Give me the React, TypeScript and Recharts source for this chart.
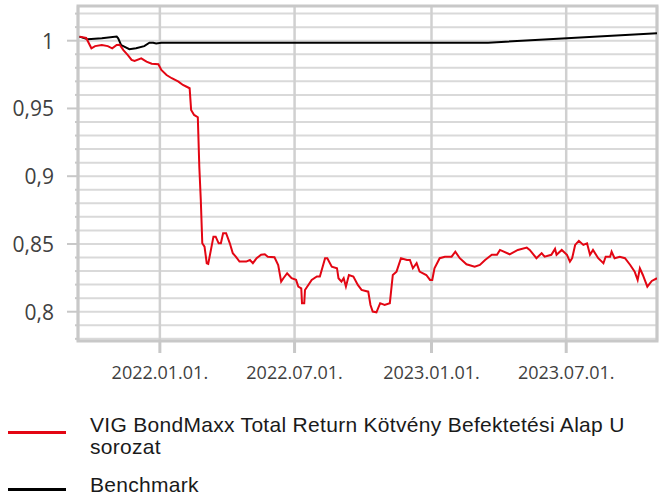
import { LineChart, Line, XAxis, YAxis, CartesianGrid, ReferenceArea } from 'recharts';

const fundName = 'VIG BondMaxx Total Return Kötvény Befektetési Alap U sorozat';
const benchName = 'Benchmark';

const fundDates = [
  '2021-09-15', '2021-09-24', '2021-10-01', '2021-10-06', '2021-10-15', '2021-10-23', '2021-10-29', '2021-11-04',
  '2021-11-08', '2021-11-13', '2021-11-19', '2021-11-24', '2021-11-28', '2021-12-07', '2021-12-14', '2021-12-21',
  '2021-12-30', '2022-01-03', '2022-01-10', '2022-01-17', '2022-01-26', '2022-02-01', '2022-02-06', '2022-02-10',
  '2022-02-12', '2022-02-16', '2022-02-21', '2022-02-23', '2022-02-25', '2022-02-27', '2022-03-02', '2022-03-05',
  '2022-03-07', '2022-03-14', '2022-03-17', '2022-03-21', '2022-03-24', '2022-03-27', '2022-03-31', '2022-04-05',
  '2022-04-09', '2022-04-13', '2022-04-18', '2022-04-27', '2022-05-02', '2022-05-06', '2022-05-11', '2022-05-17',
  '2022-05-22', '2022-05-26', '2022-06-04', '2022-06-09', '2022-06-13', '2022-06-16', '2022-06-21', '2022-06-27',
  '2022-07-03', '2022-07-06', '2022-07-10', '2022-07-11', '2022-07-14', '2022-07-15', '2022-07-24', '2022-07-31',
  '2022-08-04', '2022-08-11', '2022-08-14', '2022-08-20', '2022-08-27', '2022-08-29', '2022-09-02', '2022-09-05',
  '2022-09-08', '2022-09-12', '2022-09-18', '2022-09-24', '2022-09-29', '2022-10-08', '2022-10-11', '2022-10-14',
  '2022-10-19', '2022-10-24', '2022-10-30', '2022-11-06', '2022-11-10', '2022-11-15', '2022-11-21', '2022-11-29',
  '2022-12-03', '2022-12-07', '2022-12-12', '2022-12-16', '2022-12-25', '2022-12-30', '2023-01-02', '2023-01-05',
  '2023-01-12', '2023-01-19', '2023-01-28', '2023-02-02', '2023-02-08', '2023-02-17', '2023-02-28', '2023-03-07',
  '2023-03-14', '2023-03-23', '2023-03-30', '2023-04-03', '2023-04-16', '2023-04-27', '2023-05-09', '2023-05-13',
  '2023-05-22', '2023-05-29', '2023-06-02', '2023-06-11', '2023-06-16', '2023-06-18', '2023-06-25', '2023-07-02',
  '2023-07-06', '2023-07-09', '2023-07-13', '2023-07-18', '2023-07-24', '2023-07-29', '2023-08-02', '2023-08-06',
  '2023-08-13', '2023-08-20', '2023-08-23', '2023-08-29', '2023-08-31', '2023-09-04', '2023-09-11', '2023-09-18',
  '2023-09-25', '2023-10-01', '2023-10-05', '2023-10-08', '2023-10-12', '2023-10-18', '2023-10-24', '2023-10-31',
];

const fundValues = [
  1.003, 1.002, 0.9944, 0.996, 0.9968, 0.996, 0.9944, 0.9968,
  0.997, 0.993, 0.9894, 0.9858, 0.985, 0.987, 0.9845, 0.983,
  0.9826, 0.9784, 0.9747, 0.9723, 0.9698, 0.9673, 0.966, 0.9649,
  0.9489, 0.9452, 0.9435, 0.907, 0.8825, 0.8505, 0.848, 0.8358,
  0.8353, 0.8554, 0.8554, 0.8505, 0.8505, 0.8579, 0.8579, 0.8505,
  0.8432, 0.8406, 0.837, 0.837, 0.8382, 0.8358, 0.8395, 0.842,
  0.8424, 0.8406, 0.8402, 0.8345, 0.8222, 0.8247, 0.8284, 0.8247,
  0.8235, 0.8185, 0.8173, 0.8063, 0.8063, 0.816, 0.8235, 0.826,
  0.826, 0.8395, 0.8395, 0.8333, 0.8321, 0.8247, 0.8222, 0.8247,
  0.8185, 0.8271, 0.8259, 0.8198, 0.8161, 0.8148, 0.805, 0.8001,
  0.7996, 0.8063, 0.805, 0.8063, 0.8271, 0.8296, 0.8395, 0.8382,
  0.8382, 0.8321, 0.8358, 0.8296, 0.8271, 0.8235, 0.8235, 0.8321,
  0.8395, 0.8406, 0.8406, 0.8443, 0.8395, 0.835, 0.8333, 0.8345,
  0.8382, 0.842, 0.842, 0.8456, 0.8424, 0.8456, 0.8473, 0.8456,
  0.8395, 0.8432, 0.8406, 0.842, 0.8464, 0.842, 0.8456, 0.842,
  0.837, 0.8395, 0.8493, 0.8523, 0.8493, 0.8505, 0.842, 0.8456,
  0.8395, 0.8358, 0.8406, 0.8406, 0.8443, 0.8395, 0.8406, 0.8395,
  0.8345, 0.8296, 0.8235, 0.8321, 0.8271, 0.8185, 0.8227, 0.8247,
];

const benchDates = [
  '2021-09-15', '2021-09-26', '2021-10-15', '2021-11-04', '2021-11-06', '2021-11-10', '2021-11-21', '2021-11-30',
  '2021-12-11', '2021-12-18', '2021-12-23', '2021-12-27', '2022-01-03', '2023-03-18', '2023-10-31',
];
const benchValues = [
  1.003, 1.001, 1.0018, 1.003, 1.0018, 0.9968, 0.9937, 0.9944,
  0.996, 0.9985, 0.9985, 0.998, 0.9985, 0.9985, 1.0055,
];

const xStart = '2021-09-13';
const xEnd = '2023-10-31';
const xTickDates = ['2022-01-01', '2022-07-01', '2023-01-01', '2023-07-01'];

const yMin = 0.7784;
const yMax = 1.0256;
const yTicks = [
  0.78, 0.79, 0.8, 0.81, 0.82, 0.83, 0.84, 0.85, 0.86, 0.87, 0.88, 0.89, 0.9,
  0.91, 0.92, 0.93, 0.94, 0.95, 0.96, 0.97, 0.98, 0.99, 1, 1.01, 1.02,
];
const yLabels = [0.8, 0.85, 0.9, 0.95, 1];

const ts = (d: string) => Date.parse(d + 'T00:00:00Z');

const fundData = fundDates.map((d, i) => ({ t: ts(d), v: fundValues[i] }));
const benchData = benchDates.map((d, i) => ({ t: ts(d), v: benchValues[i] }));

const gridColor = '#d9d9d9';
const axisColor = '#c8c8c8';
const textColor = '#404040';
const tickFont = '"Open Sans", "Noto Sans", sans-serif';

function fmtDate(t: number) {
  const d = new Date(t);
  const mm = String(d.getUTCMonth() + 1).padStart(2, '0');
  const dd = String(d.getUTCDate()).padStart(2, '0');
  return `${d.getUTCFullYear()}.${mm}.${dd}.`;
}

function YTick(props: any) {
  const { x, y, payload } = props;
  const major = yLabels.some((m) => Math.abs(m - payload.value) < 1e-6);
  return (
    <g>
      <line x1={x - (major ? 11 : 3)} x2={x} y1={y} y2={y} stroke={axisColor} strokeWidth={2} />
      {major && (
        <text x={x - 24} y={y} textAnchor="end" dominantBaseline="central" fill={textColor} fontSize={21} fontFamily={tickFont}>
          {String(payload.value).replace('.', ',')}
        </text>
      )}
    </g>
  );
}

function XTick(props: any) {
  const { x, y, payload } = props;
  return (
    <g>
      <line x1={x} x2={x} y1={y} y2={y + 12} stroke={axisColor} strokeWidth={3} />
      <text x={x} y={y + 31} textAnchor="middle" dominantBaseline="central" fill={textColor} fontSize={18} fontFamily={tickFont}>
        {fmtDate(payload.value)}
      </text>
    </g>
  );
}

function LegendRow({ color, label, top, lineTop }: { color: string; label: string; top: number; lineTop: number }) {
  return (
    <div style={{ position: 'absolute', left: 0, top, width: 664, display: 'flex', alignItems: 'flex-start' }}>
      <div style={{ width: 58, height: 3, background: color, marginLeft: 8, marginTop: lineTop }} />
      <div
        style={{
          marginLeft: 24,
          width: 560,
          fontSize: 21,
          lineHeight: '22px',
          letterSpacing: '0.3px',
          color: '#1a1a1a',
          fontFamily: '"Liberation Sans", Arial, sans-serif',
        }}
      >
        {label}
      </div>
    </div>
  );
}

export default function App() {
  return (
    <div style={{ position: 'absolute', left: 0, top: 0, width: 664, height: 497, background: '#fff', overflow: 'hidden' }}>
      <LineChart width={664} height={400} margin={{ top: 6, right: 7, left: 0, bottom: 9 }}>
        <CartesianGrid horizontal vertical={false} stroke={gridColor} strokeWidth={2} />
        <CartesianGrid horizontal={false} vertical stroke="#d0d0d0" strokeWidth={2.5} />
        <XAxis
          dataKey="t"
          type="number"
          scale="linear"
          domain={[ts(xStart), ts(xEnd)]}
          ticks={xTickDates.map(ts)}
          allowDataOverflow
          axisLine={false}
          tickLine={false}
          tickSize={0}
          tickMargin={0}
          height={50}
          tick={<XTick />}
        />
        <YAxis
          type="number"
          domain={[yMin, yMax]}
          ticks={yTicks}
          allowDataOverflow
          axisLine={false}
          tickLine={false}
          tickSize={0}
          tickMargin={0}
          width={78}
          interval={0}
          tick={<YTick />}
        />
        <ReferenceArea x1={ts(xStart)} x2={ts(xEnd)} y1={yMin} y2={yMax} fill="none" stroke={axisColor} strokeWidth={3} />
        <Line data={benchData} dataKey="v" name={benchName} type="linear" stroke="#000" strokeWidth={2} dot={false} isAnimationActive={false} />
        <Line data={fundData} dataKey="v" name={fundName} type="linear" stroke="#e30613" strokeWidth={2} dot={false} isAnimationActive={false} />
      </LineChart>
      <LegendRow color="#e30613" label={fundName} top={414} lineTop={17} />
      <LegendRow color="#000" label={benchName} top={474} lineTop={14} />
    </div>
  );
}
